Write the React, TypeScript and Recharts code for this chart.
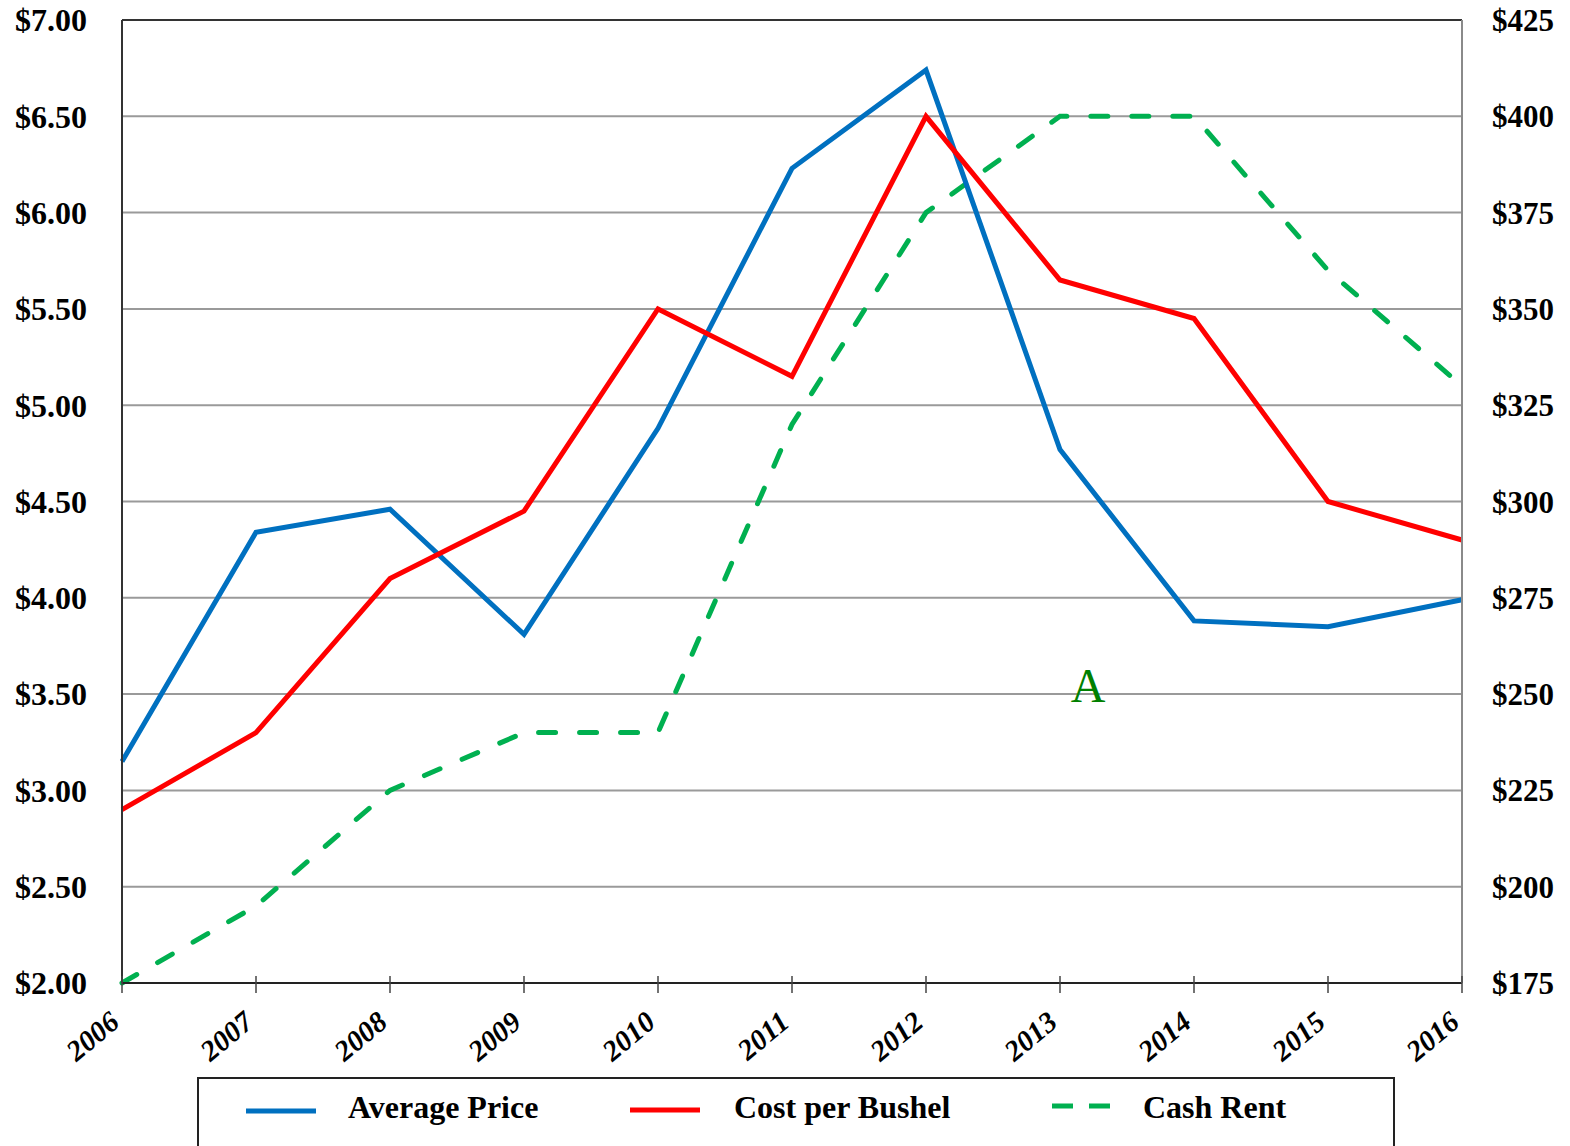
import React from 'react';
import { LineChart, Line, XAxis, YAxis, CartesianGrid, ReferenceLine } from 'recharts';

const years = ['2006', '2007', '2008', '2009', '2010', '2011', '2012', '2013', '2014', '2015', '2016'];
const averagePrice = [3.15, 4.34, 4.46, 3.81, 4.88, 6.23, 6.74, 4.77, 3.88, 3.85, 3.99];
const costPerBushel = [2.9, 3.3, 4.1, 4.45, 5.5, 5.15, 6.5, 5.65, 5.45, 4.5, 4.3];
const cashRent = [175, 195, 225, 240, 240, 320, 375, 400, 400, 360, 330];
const leftTicks = [2, 2.5, 3, 3.5, 4, 4.5, 5, 5.5, 6, 6.5, 7];
const rightTicks = [175, 200, 225, 250, 275, 300, 325, 350, 375, 400, 425];
const seriesNames = ['Average Price', 'Cost per Bushel', 'Cash Rent'];
const seriesColors = ['#0070C0', '#FF0000', '#00B050'];
const annotation = 'A';

const data = years.map((y, i) => ({
  year: y,
  avg: averagePrice[i],
  cost: costPerBushel[i],
  rent: cashRent[i],
}));

const FONT = '"Liberation Serif", "Times New Roman", serif';

const XTick = (props: any) => {
  const { x, y, payload } = props;
  const tx = x - 1;
  const ty = y + 42;
  return (
    <g>
      <line x1={x} x2={x} y1={y - 7} y2={y + 10} stroke="#444" strokeWidth={1.5} />
      <text
        x={tx}
        y={ty}
        transform={`rotate(-40, ${tx}, ${ty})`}
        textAnchor="end"
        fontFamily={FONT}
        fontWeight="bold"
        fontStyle="italic"
        fontSize={29}
        fill="#000"
      >
        {payload.value}
      </text>
    </g>
  );
};

export default function App() {
  return (
    <div style={{ position: 'absolute', left: 0, top: 0, width: 1570, height: 1146, background: '#fff', overflow: 'hidden' }}>
      <LineChart width={1570} height={1146} data={data} margin={{ top: 20, right: 0, bottom: 0, left: 0 }}>
        <CartesianGrid yAxisId="left" vertical={false} stroke="#9a9a9a" strokeWidth={2} />
        <XAxis
          dataKey="year"
          interval={0}
          height={163}
          tickSize={0}
          tickMargin={0}
          tickLine={false}
          axisLine={{ stroke: '#222', strokeWidth: 2 }}
          tick={<XTick />}
        />
        <YAxis
          yAxisId="left"
          width={122}
          domain={[2, 7]}
          ticks={leftTicks}
          interval={0}
          tickSize={0}
          tickMargin={35}
          tickLine={false}
          axisLine={{ stroke: '#333', strokeWidth: 2 }}
          tickFormatter={(v: number) => `$${v.toFixed(2)}`}
          tick={{ fontFamily: FONT, fontWeight: 'bold', fontSize: 32, fill: '#000' }}
        />
        <YAxis
          yAxisId="right"
          orientation="right"
          width={108}
          domain={[175, 425]}
          ticks={rightTicks}
          interval={0}
          tickSize={0}
          tickMargin={30}
          tickLine={false}
          axisLine={{ stroke: '#8a8a8a', strokeWidth: 2 }}
          tickFormatter={(v: number) => `$${v}`}
          tick={{ fontFamily: FONT, fontWeight: 'bold', fontSize: 31, fill: '#000', textAnchor: 'start' }}
        />
        <ReferenceLine yAxisId="left" y={7} stroke="#333" strokeWidth={2} />
        <Line
          yAxisId="right"
          type="linear"
          dataKey="rent"
          name={seriesNames[2]}
          stroke={seriesColors[2]}
          strokeWidth={5}
          strokeDasharray="17 24"
          strokeLinecap="round"
          dot={false}
          isAnimationActive={false}
        />
        <Line
          yAxisId="left"
          type="linear"
          dataKey="avg"
          name={seriesNames[0]}
          stroke={seriesColors[0]}
          strokeWidth={5}
          dot={false}
          isAnimationActive={false}
        />
        <Line
          yAxisId="left"
          type="linear"
          dataKey="cost"
          name={seriesNames[1]}
          stroke={seriesColors[1]}
          strokeWidth={5}
          dot={false}
          isAnimationActive={false}
        />
      </LineChart>
      <svg width={1570} height={1146} style={{ position: 'absolute', left: 0, top: 0, pointerEvents: 'none' }}>
        <text x={1088} y={702} textAnchor="middle" fontFamily={FONT} fontSize={48} fill="#008000">
          {annotation}
        </text>
        <rect x={198} y={1078} width={1196} height={120} fill="none" stroke="#222" strokeWidth={2} />
        <line x1={246} x2={316} y1={1111} y2={1111} stroke={seriesColors[0]} strokeWidth={5} />
        <text x={348} y={1118} fontFamily={FONT} fontWeight="bold" fontSize={32} fill="#000">{seriesNames[0]}</text>
        <line x1={630} x2={700} y1={1110} y2={1110} stroke={seriesColors[1]} strokeWidth={5} />
        <text x={734} y={1118} fontFamily={FONT} fontWeight="bold" fontSize={32} fill="#000">{seriesNames[1]}</text>
        <line x1={1052} x2={1111} y1={1106} y2={1106} stroke={seriesColors[2]} strokeWidth={5} strokeDasharray="21 16" />
        <text x={1143} y={1118} fontFamily={FONT} fontWeight="bold" fontSize={32} fill="#000">{seriesNames[2]}</text>
      </svg>
    </div>
  );
}
